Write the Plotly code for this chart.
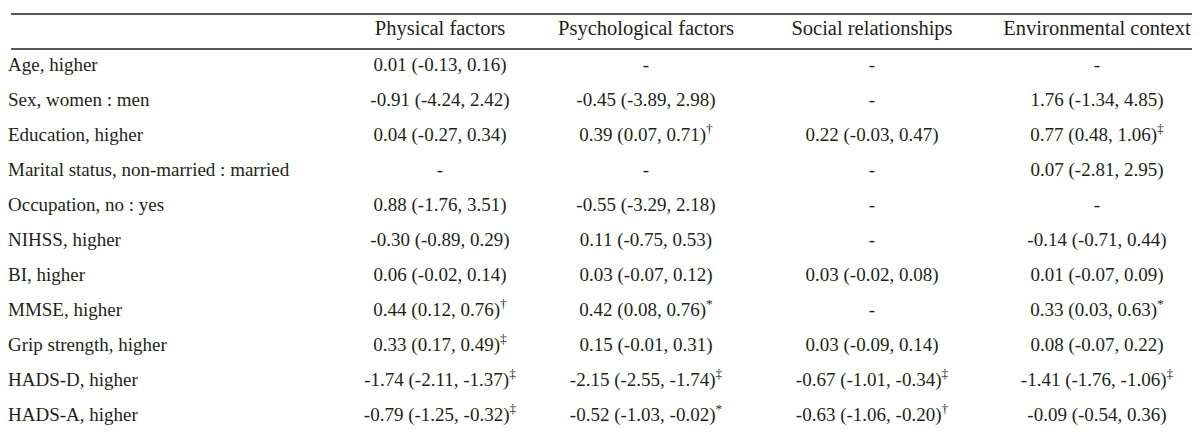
import plotly.graph_objects as go

# ---------------- data ----------------
row_labels = [
    "Age, higher",
    "Sex, women : men",
    "Education, higher",
    "Marital status, non-married : married",
    "Occupation, no : yes",
    "NIHSS, higher",
    "BI, higher",
    "MMSE, higher",
    "Grip strength, higher",
    "HADS-D, higher",
    "HADS-A, higher",
]

column_titles = ["Physical factors", "Psychological factors",
                 "Social relationships", "Environmental context"]

# estimate, lower CI, upper CI, significance mark (None = not in model)
physical_est = [0.01, -0.91, 0.04, None, 0.88, -0.30, 0.06, 0.44, 0.33, -1.74, -0.79]
physical_lo = [-0.13, -4.24, -0.27, None, -1.76, -0.89, -0.02, 0.12, 0.17, -2.11, -1.25]
physical_hi = [0.16, 2.42, 0.34, None, 3.51, 0.29, 0.14, 0.76, 0.49, -1.37, -0.32]
physical_sig = ["", "", "", "", "", "", "", "†", "‡", "‡", "‡"]

psych_est = [None, -0.45, 0.39, None, -0.55, 0.11, 0.03, 0.42, 0.15, -2.15, -0.52]
psych_lo = [None, -3.89, 0.07, None, -3.29, -0.75, -0.07, 0.08, -0.01, -2.55, -1.03]
psych_hi = [None, 2.98, 0.71, None, 2.18, 0.53, 0.12, 0.76, 0.31, -1.74, -0.02]
psych_sig = ["", "", "†", "", "", "", "", "*", "", "‡", "*"]

social_est = [None, None, 0.22, None, None, None, 0.03, None, 0.03, -0.67, -0.63]
social_lo = [None, None, -0.03, None, None, None, -0.02, None, -0.09, -1.01, -1.06]
social_hi = [None, None, 0.47, None, None, None, 0.08, None, 0.14, -0.34, -0.20]
social_sig = ["", "", "", "", "", "", "", "", "", "‡", "†"]

env_est = [None, 1.76, 0.77, 0.07, None, -0.14, 0.01, 0.33, 0.08, -1.41, -0.09]
env_lo = [None, -1.34, 0.48, -2.81, None, -0.71, -0.07, 0.03, -0.07, -1.76, -0.54]
env_hi = [None, 4.85, 1.06, 2.95, None, 0.44, 0.09, 0.63, 0.22, -1.06, 0.36]
env_sig = ["", "", "‡", "", "", "", "", "*", "", "‡", ""]


def fmt_col(est, lo, hi, sig):
    out = []
    for e, l, h, s in zip(est, lo, hi, sig):
        if e is None:
            out.append("-")
        else:
            txt = f"{e:.2f} ({l:.2f}, {h:.2f})"
            if s:
                txt += f"<sup>{s}</sup>"
            out.append(txt)
    return out


value_cols = [
    fmt_col(physical_est, physical_lo, physical_hi, physical_sig),
    fmt_col(psych_est, psych_lo, psych_hi, psych_sig),
    fmt_col(social_est, social_lo, social_hi, social_sig),
    fmt_col(env_est, env_lo, env_hi, env_sig),
]

# ---------------- layout constants ----------------
W, H = 1200, 433
ROW_PX = 35          # row height in pixels
TOP_RULE_PX = 6      # pixel position of top rule
LABEL_X = 0
COL_CENTERS = [432, 638, 864, 1089]
INK = "#231F20"
FAMILY = "Liberation Serif"
FONT_HDR = dict(family=FAMILY, size=20.5, color=INK)
FONT = dict(family=FAMILY, size=19, color=INK)

n_rows = len(row_labels)
row_y = list(range(1, n_rows + 1))   # header is row 0

fig = go.Figure()

# row labels
fig.add_trace(go.Scatter(
    x=[LABEL_X] * n_rows, y=row_y, mode="text", text=row_labels,
    textposition="middle right", textfont=FONT, hoverinfo="skip",
    marker=dict(size=0), cliponaxis=False,
))

# header
fig.add_trace(go.Scatter(
    x=COL_CENTERS, y=[-0.05] * len(column_titles), mode="text", text=column_titles,
    textposition="middle center", textfont=FONT_HDR, hoverinfo="skip",
    cliponaxis=False,
))

# value columns
for cx, col in zip(COL_CENTERS, value_cols):
    fig.add_trace(go.Scatter(
        x=[cx] * n_rows, y=row_y, mode="text", text=col,
        textposition="middle center", textfont=FONT, hoverinfo="skip",
        cliponaxis=False,
    ))

# horizontal rules (top, under header, bottom)
for yy in [-0.5, 0.5, n_rows + 0.5]:
    fig.add_shape(type="line", xref="x", yref="y",
                  x0=3, x1=1195, y0=yy, y1=yy,
                  line=dict(color=INK, width=1.5))

y_top = -0.5 - TOP_RULE_PX / ROW_PX
y_bot = y_top + H / ROW_PX

fig.update_xaxes(range=[0, W], visible=False, fixedrange=True)
fig.update_yaxes(range=[y_bot, y_top], visible=False, fixedrange=True)

fig.update_layout(
    width=W, height=H,
    margin=dict(l=0, r=0, t=0, b=0),
    paper_bgcolor="white", plot_bgcolor="white",
    showlegend=False,
)

fig.write_html("out.html")
